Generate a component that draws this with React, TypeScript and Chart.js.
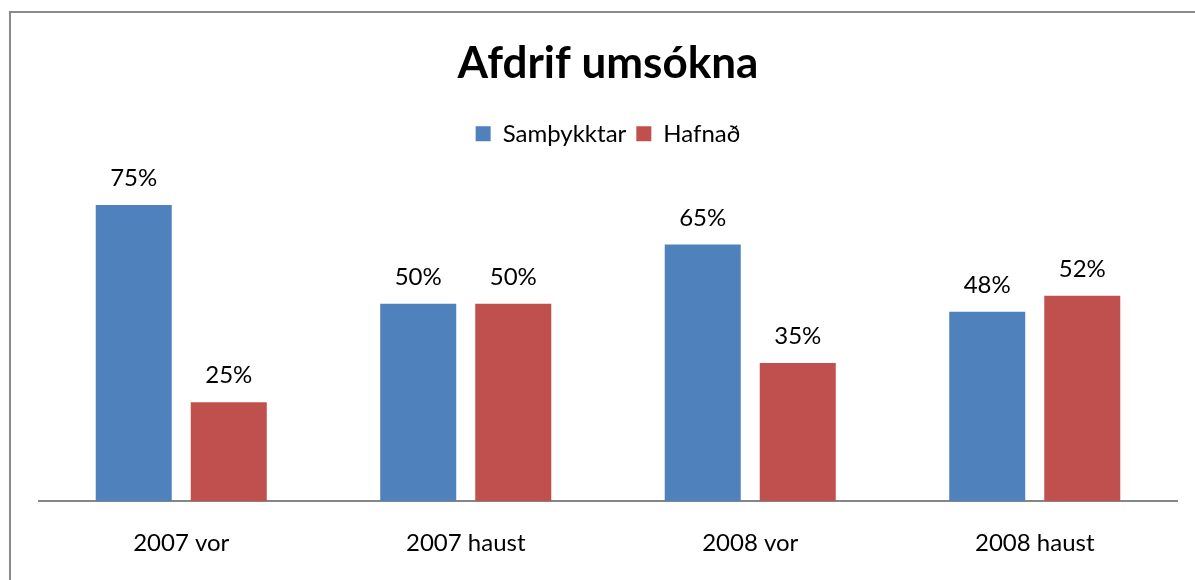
import React, { useEffect, useRef } from "react";
import { Chart, registerables } from "chart.js";

Chart.register(...registerables);

const categories = ["2007 vor", "2007 haust", "2008 vor", "2008 haust"];
const approved = [75, 50, 65, 48];
const rejected = [25, 50, 35, 52];
const seriesNames = ["Samþykktar", "Hafnað"];
const titleText = "Afdrif umsókna";

const FONT = "Lato";

const frameAndLabels = {
  id: "frameAndLabels",
  beforeDraw(chart: any) {
    const ctx = chart.ctx;
    ctx.save();
    ctx.strokeStyle = "#8a8a8a";
    ctx.lineWidth = 2;
    ctx.beginPath();
    ctx.moveTo(10, chart.height);
    ctx.lineTo(10, 12);
    ctx.lineTo(chart.width, 12);
    ctx.stroke();
    ctx.restore();
  },
  afterDatasetsDraw(chart: any) {
    const ctx = chart.ctx;
    ctx.save();
    ctx.fillStyle = "#000";
    ctx.font = `24px ${FONT}`;
    ctx.textAlign = "center";
    ctx.textBaseline = "alphabetic";
    chart.data.datasets.forEach((ds: any, i: number) => {
      const meta = chart.getDatasetMeta(i);
      meta.data.forEach((bar: any, j: number) => {
        ctx.fillText(ds.data[j] + "%", bar.x, bar.y - 19);
      });
    });
    ctx.restore();
  },
};

export default function App() {
  const ref = useRef<HTMLCanvasElement>(null);
  useEffect(() => {
    if (!ref.current) return;
    const chart = new Chart(ref.current, {
      type: "bar",
      data: {
        labels: categories,
        datasets: [
          { label: seriesNames[0], data: approved, backgroundColor: "#4F81BD" },
          { label: seriesNames[1], data: rejected, backgroundColor: "#C0504D" },
        ],
      },
      options: {
        animation: false,
        responsive: false,
        maintainAspectRatio: false,
        layout: { padding: { left: 39, right: 18, top: 0, bottom: 0 } },
        datasets: { bar: { categoryPercentage: 0.668, barPercentage: 0.8 } },
        plugins: {
          title: {
            display: true,
            text: titleText,
            color: "#000",
            font: { family: FONT, size: 44, weight: "bold", lineHeight: 1.2 },
            padding: { top: 37, bottom: 22 },
          },
          legend: {
            display: true,
            position: "top",
            labels: {
              color: "#000",
              font: { family: FONT, size: 24 },
              boxWidth: 15,
              boxHeight: 15,
              padding: 10,
            },
          },
          tooltip: { enabled: false },
        },
        scales: {
          x: {
            grid: { display: false, drawTicks: false },
            border: { display: true, color: "#868686", width: 2 },
            ticks: { color: "#000", font: { family: FONT, size: 24 }, padding: 28 },
            afterFit: (scale: any) => {
              scale.height = 79;
            },
          },
          y: {
            display: false,
            min: 0,
            max: 87.5,
          },
        },
      },
      plugins: [frameAndLabels],
    });
    return () => chart.destroy();
  }, []);
  return (
    <div style={{ position: "fixed", left: 0, top: 0, width: 1195, height: 580, background: "#fff" }}>
      <canvas ref={ref} width={1195} height={580} style={{ width: 1195, height: 580 }} />
    </div>
  );
}
